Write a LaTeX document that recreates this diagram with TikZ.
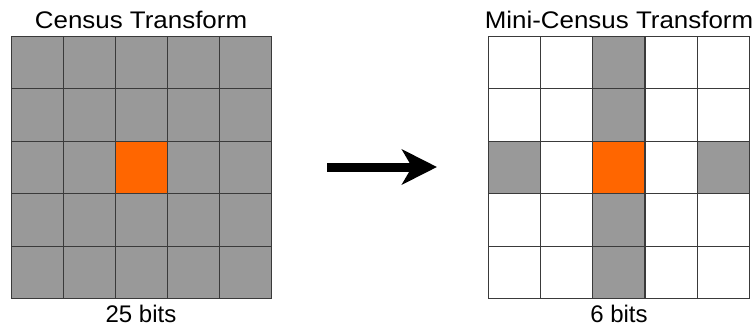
\documentclass[tikz,border=0pt]{standalone}
\usepackage{fontspec}
\setmainfont{Liberation Sans}
\usetikzlibrary{arrows.meta}
\definecolor{cellgray}{HTML}{999999}
\definecolor{centrecell}{HTML}{FF6600}
\definecolor{gridline}{HTML}{3A3A3A}
\begin{document}
\begin{tikzpicture}[x=1pt,y=-1pt,
  cell/.style={draw=gridline,line width=0.9pt,minimum width=52pt,
    minimum height=52.4pt,inner sep=0pt,outer sep=0pt,anchor=north west},
  caption/.style={anchor=base,inner sep=0pt,font=\fontsize{24}{28}\selectfont},
  bigarrow/.style={line width=9pt,
    -{Stealth[length=35pt,width=35pt,inset=10pt]}}]
\useasboundingbox (0,0) rectangle (753,332);

% full census window: every neighbour compared
\foreach \r in {0,...,4}{
  \foreach \c in {0,...,4}{
    \pgfmathtruncatemacro{\kind}{(\r==2)&&(\c==2)}
    \ifnum\kind=1 \def\fc{centrecell}\else\def\fc{cellgray}\fi
    \node[cell,fill=\fc] (L-\r-\c) at ({11+52*\c},{36.5+52.4*\r}) {};
  }
}

% mini-census window: centre column plus the two outer cells of the centre row
\foreach \r in {0,...,4}{
  \foreach \c in {0,...,4}{
    \pgfmathtruncatemacro{\kind}{(\c==2)+(\r==2)*((\c==0)||(\c==4)||(\c==2))}
    \ifcase\kind \def\fc{white}\or \def\fc{cellgray}\or \def\fc{centrecell}\fi
    \node[cell,fill=\fc] (R-\r-\c) at ({488.5+52.2*\c},{36.5+52.4*\r}) {};
  }
}

% captions
\node[caption] (ctitle) at (141,28) {\scalebox{1.08}[1]{Census Transform}};
\node[caption] (mtitle) at (619,28) {\scalebox{1.08}[1]{Mini-Census Transform}};
\node[caption] (cbits) at (141,322.5) {25 bits};
\node[caption] (mbits) at (619,322.5) {6 bits};

% transformation arrow
\coordinate (from) at (327,167);
\coordinate (to) at (437,167);
\draw[bigarrow] (from) -- (to);
\end{tikzpicture}
\end{document}
